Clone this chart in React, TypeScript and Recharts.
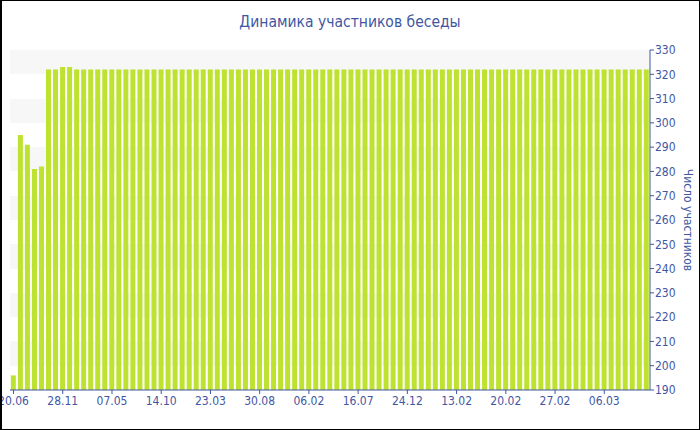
import { BarChart, Bar, XAxis, YAxis, CartesianGrid } from "recharts";

// labels under every 7th bar
const tickLabels = [
  "20.06", "28.11", "07.05", "14.10", "23.03", "30.08", "06.02",
  "16.07", "24.12", "13.02", "20.02", "27.02", "06.03",
];

// participants per record
const members = [
  196, 295, 291, 281, 282, 322, 322, 323, 323, 322,
  322, 322, 322, 322, 322, 322, 322, 322, 322,
  322, 322, 322, 322, 322, 322, 322, 322, 322,
  322, 322, 322, 322, 322, 322, 322, 322, 322,
  322, 322, 322, 322, 322, 322, 322, 322, 322,
  322, 322, 322, 322, 322, 322, 322, 322, 322,
  322, 322, 322, 322, 322, 322, 322, 322, 322,
  322, 322, 322, 322, 322, 322, 322, 322, 322,
  322, 322, 322, 322, 322, 322, 322, 322, 322,
  322, 322, 322, 322, 322, 322, 322, 322, 322,
];

const yTicks = [190, 200, 210, 220, 230, 240, 250, 260, 270, 280, 290, 300, 310, 320, 330];
const yMinorTicks = [195, 205, 215, 225, 235, 245, 255, 265, 275, 285, 295, 305, 315, 325];

const data = members.map((v, i) => ({ i, members: v }));

const BLUE = "#3f57a3";
const FONT = "'DejaVu Sans Condensed', 'DejaVu Sans', sans-serif";

export default function App() {
  return (
    <div style={{ position: "absolute", left: 0, top: 0, width: 700, height: 430, background: "#fff" }}>
      <div
        style={{
          position: "absolute",
          top: 13,
          width: 700,
          textAlign: "center",
          fontFamily: "'Liberation Sans Narrow', 'DejaVu Sans Condensed', sans-serif",
          fontSize: 15.5,
          color: BLUE,
        }}
      >
        Динамика участников беседы
      </div>
      <BarChart
        width={700}
        height={430}
        data={data}
        margin={{ top: 50, right: 0, left: 10, bottom: 0 }}
        barCategoryGap="12%"
        style={{ fontFamily: FONT }}
      >
        <CartesianGrid
          vertical={false}
          stroke="transparent"
          horizontalFill={["#f7f7f7", "#ffffff"]}
          yAxisId="main"
        />
        <XAxis
          dataKey="i"
          type="category"
          interval={6}
          height={40}
          tickSize={4}
          tick={{ fill: BLUE, fontSize: 12 }}
          tickFormatter={(i: number) => tickLabels[i / 7] ?? ""}
          stroke={BLUE}
        />
        <YAxis
          yAxisId="minor"
          orientation="right"
          domain={[190, 330]}
          ticks={yMinorTicks}
          tick={false}
          tickSize={2}
          axisLine={false}
          width={0}
          stroke={BLUE}
        />
        <YAxis
          yAxisId="main"
          orientation="right"
          domain={[190, 330]}
          ticks={yTicks}
          interval={0}
          width={50}
          tickSize={4}
          tickMargin={1}
          tick={{ fill: BLUE, fontSize: 12 }}
          stroke={BLUE}
          label={{
            value: "Число участников",
            angle: 90,
            position: "center",
            dx: 13,
            fill: BLUE,
            fontSize: 12,
          }}
        />
        <Bar dataKey="members" yAxisId="main" fill="#bde22f" isAnimationActive={false} />
      </BarChart>
      <div
        style={{
          position: "absolute",
          inset: 0,
          border: "1px solid #000",
          borderLeftWidth: 2,
          boxSizing: "border-box",
          pointerEvents: "none",
        }}
      />
    </div>
  );
}
